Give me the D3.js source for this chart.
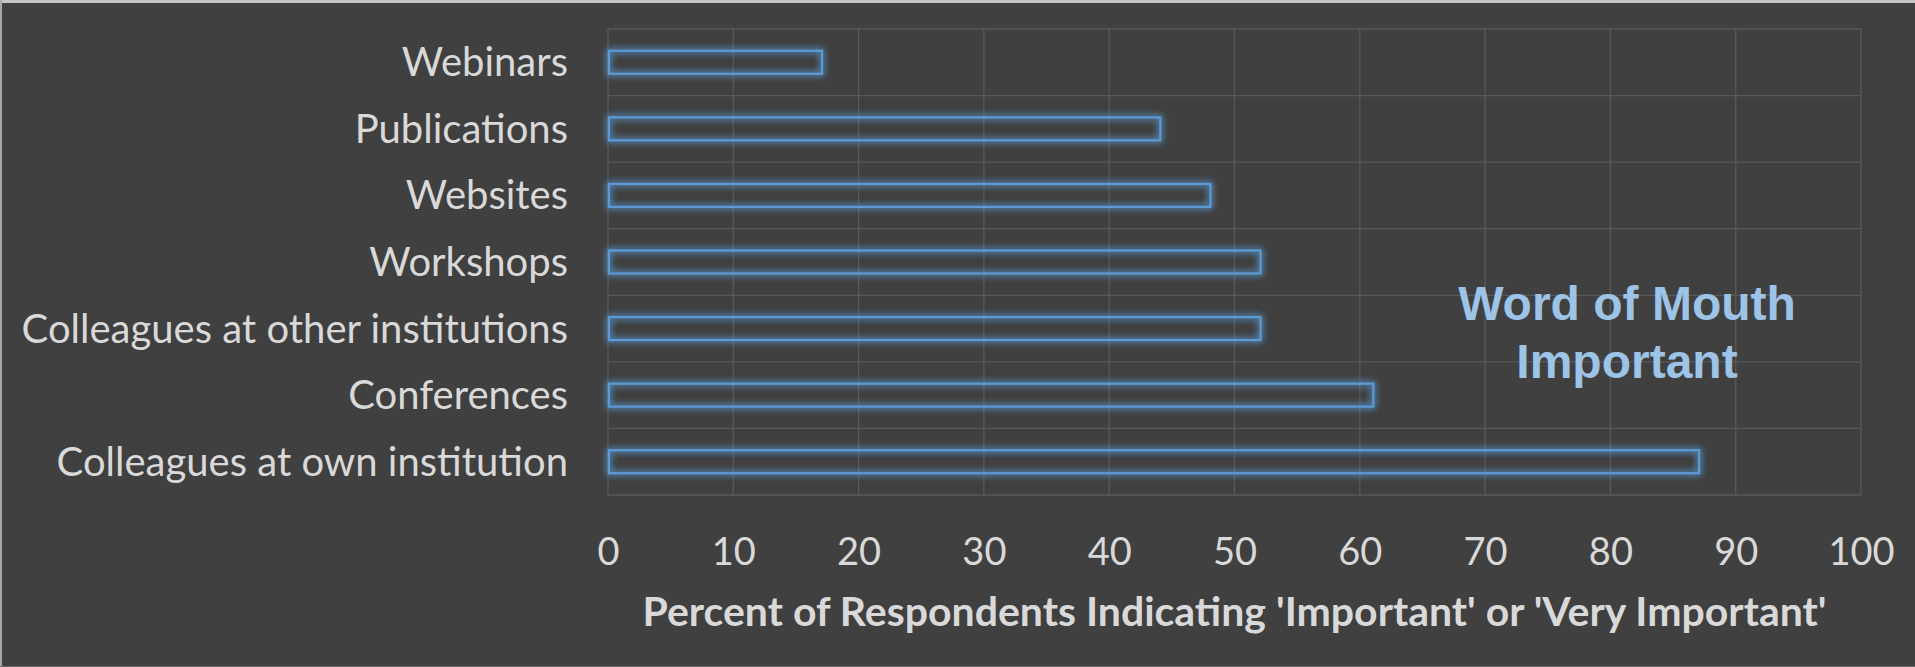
<!DOCTYPE html>
<html>
<head>
<meta charset="utf-8">
<script src="https://cdn.jsdelivr.net/npm/d3@7"></script>
<style>
  html, body { margin: 0; padding: 0; background: #404040; }
  svg { display: block; }
</style>
</head>
<body>
<svg id="chart" width="1915" height="667"></svg>
<script>
// data, top row first
var categories = ["Webinars", "Publications", "Websites", "Workshops",
  "Colleagues at other institutions", "Conferences", "Colleagues at own institution"];
var percents = [17, 44, 48, 52, 52, 61, 87];
var xTicks = [0, 10, 20, 30, 40, 50, 60, 70, 80, 90, 100];
var axisTitle = "Percent of Respondents Indicating 'Important' or 'Very Important'";
var noteLines = ["Word of Mouth", "Important"];

var svg = d3.select("#chart"),
  W = +svg.attr("width"),
  H = +svg.attr("height");

var plot = {left: 608, right: 1861, top: 29, bottom: 495};

// background + thin light frame (top / left / bottom)
svg.append("rect")
  .attr("width", W).attr("height", H)
  .attr("fill", "#404040");
svg.append("rect").attr("x", 0).attr("y", 0).attr("width", W).attr("height", 3).attr("fill", "#c4c4c4");
svg.append("rect").attr("x", 0).attr("y", 0).attr("width", 2).attr("height", H).attr("fill", "#a8a8a8");
svg.append("rect").attr("x", 0).attr("y", H - 1).attr("width", W).attr("height", 1).attr("fill", "#6a6a6a");

var x = d3.scaleLinear().domain([0, 100]).range([plot.left, plot.right]);
var y = d3.scaleBand().domain(categories).range([plot.top, plot.bottom]).paddingInner(0.655).paddingOuter(0.3275);
var yBound = d3.scaleBand().domain(categories).range([plot.top, plot.bottom]);

// glow
var defs = svg.append("defs");
var glow = defs.append("filter").attr("id", "glow")
  .attr("x", "-10%").attr("y", "-60%").attr("width", "120%").attr("height", "220%");
glow.append("feGaussianBlur").attr("in", "SourceGraphic").attr("stdDeviation", 3.5).attr("result", "blur");
var merge = glow.append("feMerge");
merge.append("feMergeNode").attr("in", "blur");
merge.append("feMergeNode").attr("in", "blur");
merge.append("feMergeNode").attr("in", "SourceGraphic");

// gridlines
var grid = svg.append("g").attr("stroke", "#595959").attr("stroke-width", 1.3);
grid.selectAll("line.v")
  .data(xTicks)
  .enter().append("line")
    .attr("class", "v")
    .attr("x1", function(d) { return x(d); })
    .attr("x2", function(d) { return x(d); })
    .attr("y1", plot.top)
    .attr("y2", plot.bottom);
grid.selectAll("line.h")
  .data(categories.concat(["_end"]))
  .enter().append("line")
    .attr("class", "h")
    .attr("x1", plot.left)
    .attr("x2", plot.right)
    .attr("y1", function(d) { return d === "_end" ? plot.bottom : yBound(d); })
    .attr("y2", function(d) { return d === "_end" ? plot.bottom : yBound(d); });

// bars
svg.append("g")
  .selectAll("rect")
  .data(categories)
  .enter().append("rect")
    .attr("x", x(0) + 1)
    .attr("y", function(d) { return y(d); })
    .attr("width", function(d, i) { return x(percents[i]) - x(0); })
    .attr("height", y.bandwidth())
    .attr("fill", "none")
    .attr("stroke", "#5b9bd5")
    .attr("stroke-width", 2.2)
    .attr("filter", "url(#glow)");

// category labels
svg.append("g")
  .selectAll("text")
  .data(categories)
  .enter().append("text")
    .attr("x", 568)
    .attr("y", function(d) { return yBound(d) + yBound.bandwidth() / 2; })
    .attr("dy", "0.35em")
    .attr("text-anchor", "end")
    .attr("fill", "#d9d9d9")
    .style("font-family", "Lato, 'Open Sans', sans-serif")
    .style("font-size", "40px")
    .text(function(d) { return d; });

// x axis
var xAxis = svg.append("g")
  .attr("transform", "translate(0," + plot.bottom + ")")
  .call(d3.axisBottom(x).tickValues(xTicks).tickSize(0).tickPadding(43));
xAxis.select(".domain").remove();
xAxis.selectAll("text")
  .attr("fill", "#d9d9d9")
  .style("font-family", "Lato, 'Open Sans', sans-serif")
  .style("font-size", "38px");

svg.append("text")
  .attr("x", (plot.left + plot.right) / 2)
  .attr("y", 626)
  .attr("text-anchor", "middle")
  .attr("fill", "#d9d9d9")
  .style("font-family", "Lato, 'Open Sans', sans-serif")
  .style("font-weight", "bold")
  .style("font-size", "41px")
  .text(axisTitle);

// annotation
svg.append("text")
  .attr("x", 1627)
  .attr("text-anchor", "middle")
  .attr("fill", "#9dc3e6")
  .style("font-family", "'Liberation Sans', Arial, sans-serif")
  .style("font-weight", "bold")
  .style("font-size", "48px")
  .selectAll("tspan")
  .data(noteLines)
  .enter().append("tspan")
    .attr("x", 1627)
    .attr("y", function(d, i) { return 320 + i * 58; })
    .text(function(d) { return d; });
</script>
</body>
</html>
